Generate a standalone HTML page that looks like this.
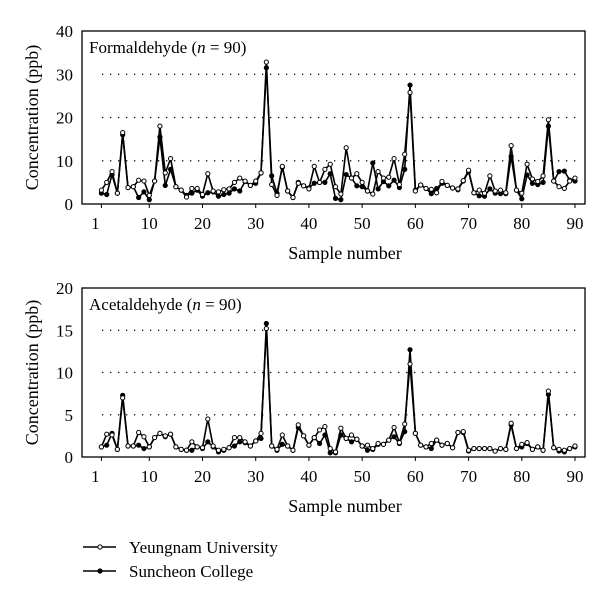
<!DOCTYPE html>
<html><head><meta charset="utf-8">
<style>
html,body{margin:0;padding:0;background:#fff;}
svg{display:block;font-family:"Liberation Serif",serif;}
</style></head>
<body>
<svg id="chart" width="600" height="613" viewBox="0 0 600 613"></svg>
<script>
const samples = Array.from({length:90},(_,i)=>i+1);
const xTicks = [1,10,20,30,40,50,60,70,80,90];
const formTicks = [0,10,20,30,40];
const acetTicks = [0,5,10,15,20];
const formYeungnam = [3.2,5.0,7.5,2.5,16.5,3.8,4.0,5.5,5.3,2.0,5.3,18,7.2,10.5,4.0,3.2,1.6,3.6,3.6,2.2,7.0,3.0,2.8,3.3,3.5,5.0,6.0,5.3,4.3,5.3,7.2,32.8,4.5,2.0,8.7,3.0,1.5,4.8,4.2,3.5,8.7,5.0,8.0,9.2,4.0,2.3,13,6.0,7.0,5.0,3.0,2.3,7.5,6.0,6.2,10.5,4.5,11.5,25.8,3.0,4.4,3.6,3.4,2.6,5.2,4.3,3.7,3.5,5.4,7.8,2.6,3.2,2.5,6.5,3.0,3.2,2.6,13.5,3.2,2.5,9.2,5.8,5.2,6.5,19.5,5.3,4.0,3.6,5.3,6.0];
const formSuncheon = [2.5,2.2,6.8,2.5,16.0,3.8,4.0,1.5,2.8,1.0,5.3,15.5,4.3,8.0,4.0,3.2,2.0,2.5,3.2,1.8,2.6,2.8,1.8,2.2,2.5,3.5,3.0,5.2,4.3,4.8,7.2,31.5,6.5,2.5,8.5,3.0,1.5,5.0,4.2,3.7,4.8,5.0,5.0,7.0,1.3,1.0,6.8,6.0,4.2,4.0,3.0,9.5,3.5,5.2,4.2,5.5,3.8,8.0,27.5,3.2,4.4,3.6,2.4,3.6,4.8,4.3,3.7,3.3,5.3,7.5,2.6,1.9,1.8,3.5,2.5,2.4,2.4,11.0,3.2,1.2,6.7,4.8,4.5,5.0,18.0,5.3,7.5,7.6,5.5,5.3];
const acetYeungnam = [1.2,2.7,2.6,0.9,7.0,1.3,1.3,2.9,2.4,1.2,2.3,2.8,2.5,2.7,1.2,0.9,0.8,1.8,1.2,1.1,4.5,1.3,0.8,0.9,1.1,2.3,2.3,1.8,1.3,1.9,2.8,15.2,1.3,0.9,2.6,1.3,0.8,3.8,2.5,1.4,2.3,3.2,3.6,1.0,0.6,3.4,2.2,2.6,2.1,1.3,1.4,1.0,1.6,1.5,2.0,3.5,1.7,3.9,11.0,2.8,1.4,1.2,1.6,2.0,1.4,1.6,1.1,2.9,3.0,0.8,1.0,1.0,1.0,1.0,0.7,1.0,0.9,4.0,1.0,1.5,1.7,0.9,1.2,0.8,7.8,1.1,0.9,0.8,1.0,1.3];
const acetSuncheon = [1.2,1.4,2.8,0.9,7.3,1.3,1.3,1.4,1.0,1.2,2.3,2.8,2.4,2.7,1.2,0.9,0.8,0.8,1.2,1.0,1.8,1.2,0.6,0.8,1.1,1.3,1.8,1.7,1.3,1.9,2.2,15.8,1.3,0.8,1.5,1.3,0.8,3.5,2.5,1.4,2.3,1.6,2.6,0.5,0.5,2.6,2.2,1.8,2.1,1.3,0.8,0.9,1.5,1.5,2.0,2.4,1.6,3.0,12.7,2.8,1.4,1.2,1.0,2.0,1.4,1.6,1.1,2.9,2.9,0.7,1.0,1.0,1.0,1.0,0.7,1.0,0.9,3.8,1.0,1.2,1.6,0.9,1.2,0.8,7.4,1.1,0.7,0.6,1.0,1.2];

const NS="http://www.w3.org/2000/svg";
const svg=document.getElementById('chart');
function mk(tag,attrs,parent){const e=document.createElementNS(NS,tag);for(const k in attrs)e.setAttribute(k,attrs[k]);(parent||svg).appendChild(e);return e;}
const L=82,R=585;
function xs(n){return 101.4+(n-1)*(575-101.4)/89;}

function panel(cfg){
  const g=mk('g',{});
  
  
  const ys=v=>cfg.bot-(v/cfg.max)*(cfg.bot-cfg.top);
  // gridlines
  cfg.ticks.forEach(t=>{
    if(t>0&&t<cfg.max){
      const gl=mk('line',{x1:L+20,x2:R-4,y1:ys(t),y2:ys(t),stroke:'#000','stroke-width':1.3,'stroke-dasharray':'1.3 6.7'},g);
      
      
    }
    const tl=mk('text',{x:L-9,y:ys(t)+6,'text-anchor':'end','font-size':17},g);
    tl.textContent=t;
    
    
  });
  const box=mk('rect',{x:L,y:cfg.top,width:R-L,height:cfg.bot-cfg.top,fill:'none',stroke:'#000','stroke-width':1.3},g);
  
  
  xTicks.forEach(t=>{
    mk('line',{x1:xs(t),x2:xs(t),y1:cfg.bot,y2:cfg.bot+4,stroke:'#000','stroke-width':1},g);
    const tl=mk('text',{x:xs(t)-(t===1?6:0),y:cfg.bot+25,'text-anchor':'middle','font-size':17},g);
    tl.textContent=t;
    
    
  });
  const xt=mk('text',{x:345,y:cfg.bot+55,'text-anchor':'middle','font-size':18},g);
  xt.textContent='Sample number';
  
  
  const cy=(cfg.top+cfg.bot)/2;
  const yt=mk('text',{x:38,y:cy,'text-anchor':'middle','font-size':18,transform:'rotate(-90 38 '+cy+')'},g);
  yt.textContent='Concentration (ppb)';
  
  
  const lab=mk('text',{x:89,y:cfg.top+22,'font-size':17},g);
  lab.innerHTML=cfg.label+' (<tspan font-style="italic">n</tspan> = 90)';
  
  
  [[cfg.s2,'#000','suncheon'],[cfg.s1,'#fff','yeungnam']].forEach(([arr,fill,nm])=>{
    const pts=arr.map((v,i)=>xs(samples[i]).toFixed(1)+','+ys(v).toFixed(1)).join(' ');
    const pl=mk('polyline',{points:pts,fill:'none',stroke:'#000','stroke-width':1.6},g);
    
    
    arr.forEach((v,i)=>{
      const c=mk('circle',{cx:xs(samples[i]),cy:ys(v),r:2.1,fill:fill,stroke:'#000','stroke-width':1},g);
      
      
    });
  });
}
panel({name:'formaldehyde',top:31,bot:204,max:40,ticks:formTicks,label:'Formaldehyde',s1:formYeungnam,s2:formSuncheon});
panel({name:'acetaldehyde',top:288,bot:457,max:20,ticks:acetTicks,label:'Acetaldehyde',s1:acetYeungnam,s2:acetSuncheon});

// legend
[[547,'#fff','Yeungnam University','legend-yeungnam'],[571,'#000','Suncheon College','legend-suncheon']].forEach(([y,f,t,n])=>{
  const g=mk('g',{});
  
  
  mk('line',{x1:83,x2:116,y1:y,y2:y,stroke:'#000','stroke-width':1.6},g);
  mk('circle',{cx:100,cy:y,r:2.1,fill:f,stroke:'#000','stroke-width':1},g);
  const tx=mk('text',{x:129,y:y+6,'font-size':17},g);
  tx.textContent=t;
});
</script>
</body></html>
